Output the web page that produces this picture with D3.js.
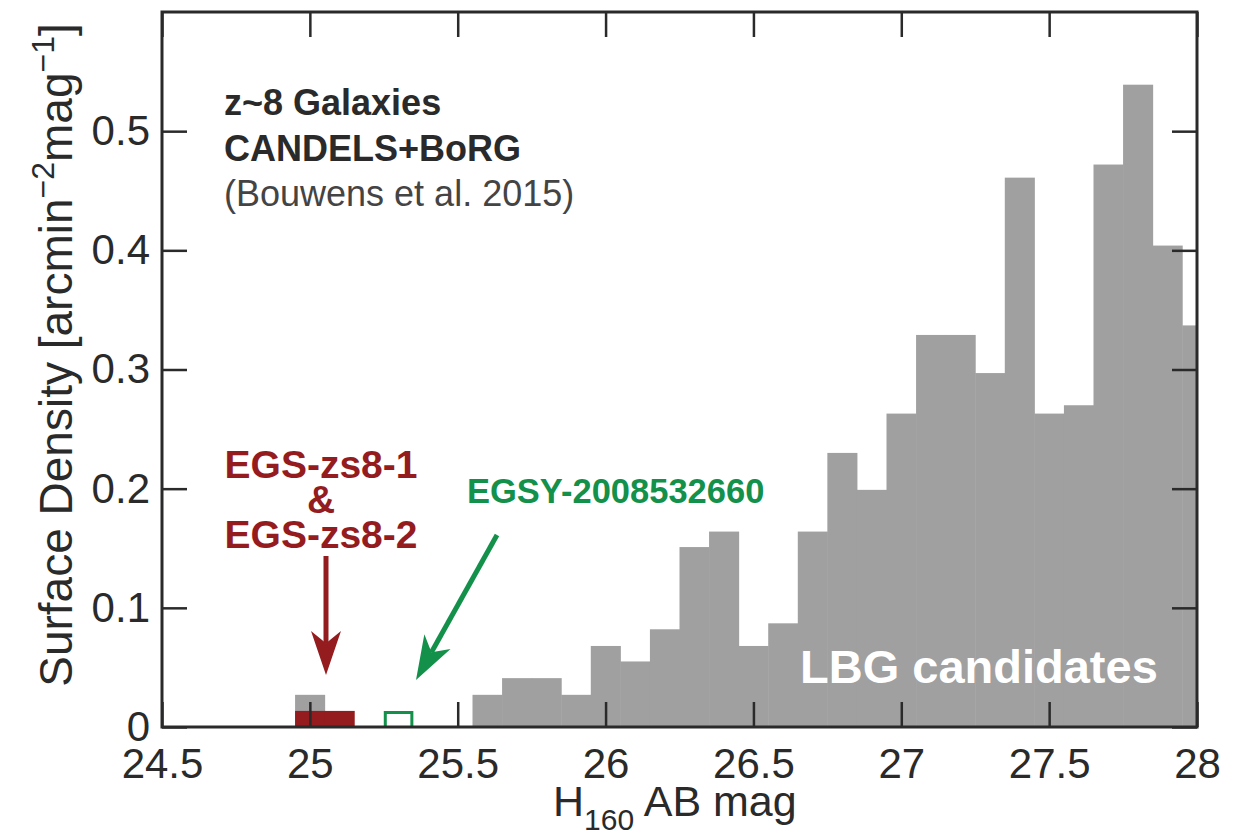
<!DOCTYPE html>
<html>
<head>
<meta charset="utf-8">
<script src="https://cdn.jsdelivr.net/npm/d3@7/dist/d3.min.js"></script>
<style>
  html, body { margin: 0; padding: 0; background: #ffffff; }
  svg { display: block; }
  text { font-family: "Liberation Sans", Arial, Helvetica, sans-serif; }
</style>
</head>
<body>
<svg id="chart" width="1244" height="837"></svg>
<script>
// z~8 galaxy surface density vs. H160 magnitude (0.1 mag bins)
const lbgBins = [25.0, 25.6, 25.7, 25.8, 25.9, 26.0, 26.1, 26.2, 26.3, 26.4, 26.5, 26.6, 26.7,
                 26.8, 26.9, 27.0, 27.1, 27.2, 27.3, 27.4, 27.5, 27.6, 27.7, 27.8, 27.9, 28.0];
const lbgDensity = [0.027, 0.027, 0.041, 0.041, 0.027, 0.068, 0.055, 0.082, 0.151, 0.164, 0.068, 0.087, 0.164,
                    0.230, 0.199, 0.263, 0.329, 0.329, 0.297, 0.461, 0.263, 0.270, 0.472, 0.539, 0.404, 0.337];

// spectroscopically confirmed sources
const egsBins = [25.0, 25.1];
const egsDensity = [0.0135, 0.0135];
const egsyBins = [25.3];
const egsyDensity = [0.0135];

const binWidth = 0.1;
const xTicks = [24.5, 25, 25.5, 26, 26.5, 27, 27.5, 28];
const yTicks = [0, 0.1, 0.2, 0.3, 0.4, 0.5];

const svg = d3.select("#chart");
const m = { left: 162, right: 1197, top: 12, bottom: 727 };

const x = d3.scaleLinear().domain([24.5, 28]).range([m.left, m.right]);
const y = d3.scaleLinear().domain([0, 0.6]).range([m.bottom, m.top]);

const gray = "#a0a0a0", red = "#941b1e", green = "#13904a", ink = "#2a2a2a";

svg.append("clipPath").attr("id", "plot-clip")
  .append("rect").attr("x", m.left).attr("y", m.top).attr("width", m.right - m.left).attr("height", m.bottom - m.top);

const plot = svg.append("g").attr("clip-path", "url(#plot-clip)");

// LBG candidate histogram
plot.selectAll("rect.lbg").data(lbgBins.map((c, i) => ({ c, v: lbgDensity[i] })))
  .join("rect").attr("class", "lbg")
  .attr("x", d => x(d.c - binWidth / 2))
  .attr("width", d => x(d.c + binWidth / 2) - x(d.c - binWidth / 2) + 0.5)
  .attr("y", d => y(d.v))
  .attr("height", d => y(0) - y(d.v))
  .attr("fill", gray);

// EGS-zs8-1 & EGS-zs8-2
plot.selectAll("rect.egs").data(egsBins.map((c, i) => ({ c, v: egsDensity[i] })))
  .join("rect").attr("class", "egs")
  .attr("x", d => x(d.c - binWidth / 2))
  .attr("width", d => x(d.c + binWidth / 2) - x(d.c - binWidth / 2) + 0.5)
  .attr("y", d => y(d.v))
  .attr("height", d => y(0) - y(d.v))
  .attr("fill", red);

// EGSY-2008532660 (open bin)
plot.selectAll("path.egsy").data(egsyBins.map((c, i) => ({ c, v: egsyDensity[i] })))
  .join("path").attr("class", "egsy")
  .attr("d", d => {
    const x0 = x(d.c - binWidth / 2) + 1.5, x1 = x(d.c + binWidth / 2) - 1.5, yt = y(d.v) + 1.5;
    return `M${x0},${y(0)}V${yt}H${x1}V${y(0)}`;
  })
  .attr("fill", "none").attr("stroke", green).attr("stroke-width", 3);

// axes: inward ticks on all four sides
const tickLen = 25;
const axisStyle = g => {
  g.select(".domain").remove();
  g.selectAll(".tick line").attr("stroke", ink).attr("stroke-width", 2.5);
};
svg.append("g").attr("transform", `translate(0,${m.bottom})`)
  .call(d3.axisBottom(x).tickValues(xTicks).tickSize(-tickLen).tickFormat(d3.format("")))
  .call(axisStyle)
  .call(g => g.selectAll(".tick text").attr("font-size", 42).attr("fill", ink).attr("y", 21).attr("dy", "0.71em"));
svg.append("g").attr("transform", `translate(0,${m.top})`)
  .call(d3.axisTop(x).tickValues(xTicks).tickSize(-tickLen).tickFormat(""))
  .call(axisStyle);
svg.append("g").attr("transform", `translate(${m.left},0)`)
  .call(d3.axisLeft(y).tickValues(yTicks).tickSize(-tickLen).tickFormat(d => d === 0 ? "0" : d3.format(".1f")(d)))
  .call(axisStyle)
  .call(g => g.selectAll(".tick text").attr("font-size", 42).attr("fill", ink).attr("x", -12));
svg.append("g").attr("transform", `translate(${m.right},0)`)
  .call(d3.axisRight(y).tickValues(yTicks).tickSize(-tickLen).tickFormat(""))
  .call(axisStyle);

// plot frame
svg.append("rect").attr("x", m.left).attr("y", m.top).attr("width", m.right - m.left).attr("height", m.bottom - m.top)
  .attr("fill", "none").attr("stroke", ink).attr("stroke-width", 3);

// axis titles
const xt = svg.append("text").attr("x", 553).attr("y", 816).attr("font-size", 43).attr("fill", ink);
xt.append("tspan").text("H");
xt.append("tspan").attr("font-size", 30).attr("dy", 14).text("160");
xt.append("tspan").attr("dy", -14).text(" AB mag");

const yt = svg.append("text").attr("transform", "translate(72,355) rotate(-90)")
  .attr("text-anchor", "middle").attr("font-size", 46).attr("fill", ink);
yt.append("tspan").text("Surface Density [arcmin");
yt.append("tspan").attr("font-size", 32).attr("dy", -18).text("−2");
yt.append("tspan").attr("dy", 18).text("mag");
yt.append("tspan").attr("font-size", 32).attr("dy", -18).text("−1");
yt.append("tspan").attr("dy", 18).text("]");

// sample description
svg.append("text").attr("x", 224).attr("y", 115).attr("font-size", 36).attr("font-weight", "bold").attr("fill", ink).text("z~8 Galaxies");
svg.append("text").attr("x", 224).attr("y", 161).attr("font-size", 36).attr("font-weight", "bold").attr("fill", ink).text("CANDELS+BoRG");
svg.append("text").attr("x", 224).attr("y", 206).attr("font-size", 36).attr("fill", "#444").text("(Bouwens et al. 2015)");

// object labels
const redLabel = svg.append("g").attr("font-size", 39).attr("font-weight", "bold").attr("fill", red).attr("text-anchor", "middle");
redLabel.append("text").attr("x", 321).attr("y", 478).text("EGS-zs8-1");
redLabel.append("text").attr("x", 321).attr("y", 513).text("&");
redLabel.append("text").attr("x", 321).attr("y", 548).text("EGS-zs8-2");

svg.append("text").attr("x", 467).attr("y", 503).attr("font-size", 34.5).attr("font-weight", "bold").attr("fill", green).text("EGSY-2008532660");

svg.append("text").attr("x", 800).attr("y", 683).attr("font-size", 47).attr("font-weight", "bold").attr("fill", "#ffffff").text("LBG candidates");

// arrows pointing at the confirmed sources
function arrow(x1, y1, x2, y2, color) {
  const ang = Math.atan2(y2 - y1, x2 - x1);
  const hl = 44, hw = 15;
  const bx = x2 - hl * Math.cos(ang), by = y2 - hl * Math.sin(ang);
  const nx = -Math.sin(ang), ny = Math.cos(ang);
  const ix = x2 - (hl * 0.72) * Math.cos(ang), iy = y2 - (hl * 0.72) * Math.sin(ang);
  svg.append("line").attr("x1", x1).attr("y1", y1).attr("x2", ix).attr("y2", iy)
    .attr("stroke", color).attr("stroke-width", 5);
  svg.append("path")
    .attr("d", `M${x2},${y2}L${bx + nx * hw},${by + ny * hw}L${ix},${iy}L${bx - nx * hw},${by - ny * hw}Z`)
    .attr("fill", color);
}
arrow(326, 556, 326, 675, red);
arrow(497, 535, 416, 680, green);
</script>
</body>
</html>
